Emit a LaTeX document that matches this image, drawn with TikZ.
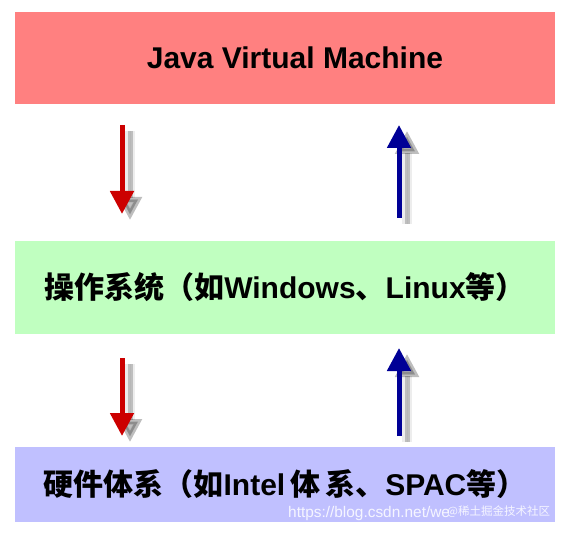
\documentclass[tikz,border=0pt]{standalone}
\usepackage{fontspec}
\setmainfont{Liberation Sans}
\newfontfamily\cjk{Noto Sans CJK SC}
\usetikzlibrary{arrows.meta}
\definecolor{jvmred}{RGB}{255,128,128}
\definecolor{osgreen}{RGB}{192,255,192}
\definecolor{hwblue}{RGB}{192,192,255}
\definecolor{downred}{RGB}{204,0,0}
\definecolor{upblue}{RGB}{0,0,150}
\tikzset{
  layer/.style={draw=none, minimum width=540pt, inner sep=0pt,
    font=\fontsize{30}{36}\selectfont\bfseries, text=black},
  flow/.style={line width=5pt, -{Triangle[width=23pt,length=23pt]}},
  flowshadow/.style={line width=5pt, -{Triangle[width=23pt,length=23pt]},
    draw=black, fill=black, opacity=0.2},
  wm/.style={text=white, opacity=0.85, inner sep=0pt, anchor=west}
}
\begin{document}
\begin{tikzpicture}[x=1pt,y=-1pt]
\useasboundingbox (0,0) rectangle (569,534);
% layers
\node[layer, fill=jvmred, minimum height=92pt] (jvm) at (285,58) {\hspace{20pt}Java Virtual Machine};
\node[layer, fill=osgreen, minimum height=93pt] (os) at (285,287.5)
  {{\cjk 操作系统（如}Windows{\cjk 、}Linux{\cjk 等）}};
\node[layer, fill=hwblue, minimum height=75pt] (hw) at (285,484)
  {{\cjk 硬件体系（如}Intel{\cjk\,体\,系、}SPAC{\cjk 等）}};
% arrow end points
\coordinate (d1s) at (122,125); \coordinate (d1e) at (122,214);
\coordinate (u1s) at (399,218); \coordinate (u1e) at (399,125);
\coordinate (d2s) at (122,358); \coordinate (d2e) at (122,436);
\coordinate (u2s) at (399,436); \coordinate (u2e) at (399,348);
% shadows
\foreach \a/\b in {d1s/d1e,u1s/u1e,d2s/d2e,u2s/u2e}{
  \begin{scope}[transform canvas={shift={(8pt,-6pt)}}]
    \draw[flowshadow, opacity=0.07, line width=10pt] (\a) -- (\b);
    \draw[flowshadow] (\a) -- (\b);
  \end{scope}
}
% arrows
\draw[flow, draw=downred, fill=downred] (d1s) -- (d1e);
\draw[flow, draw=upblue, fill=upblue] (u1s) -- (u1e);
\draw[flow, draw=downred, fill=downred] (d2s) -- (d2e);
\draw[flow, draw=upblue, fill=upblue] (u2s) -- (u2e);
% watermark
\node[wm, font=\fontsize{15.4}{18}\selectfont] (wm1) at (288,514) {https://blog.csdn.net/we};
\node[wm, font=\cjk\fontsize{11.5}{14}\selectfont] (wm2) at (447,512) {@稀土掘金技术社区};
\end{tikzpicture}
\end{document}
